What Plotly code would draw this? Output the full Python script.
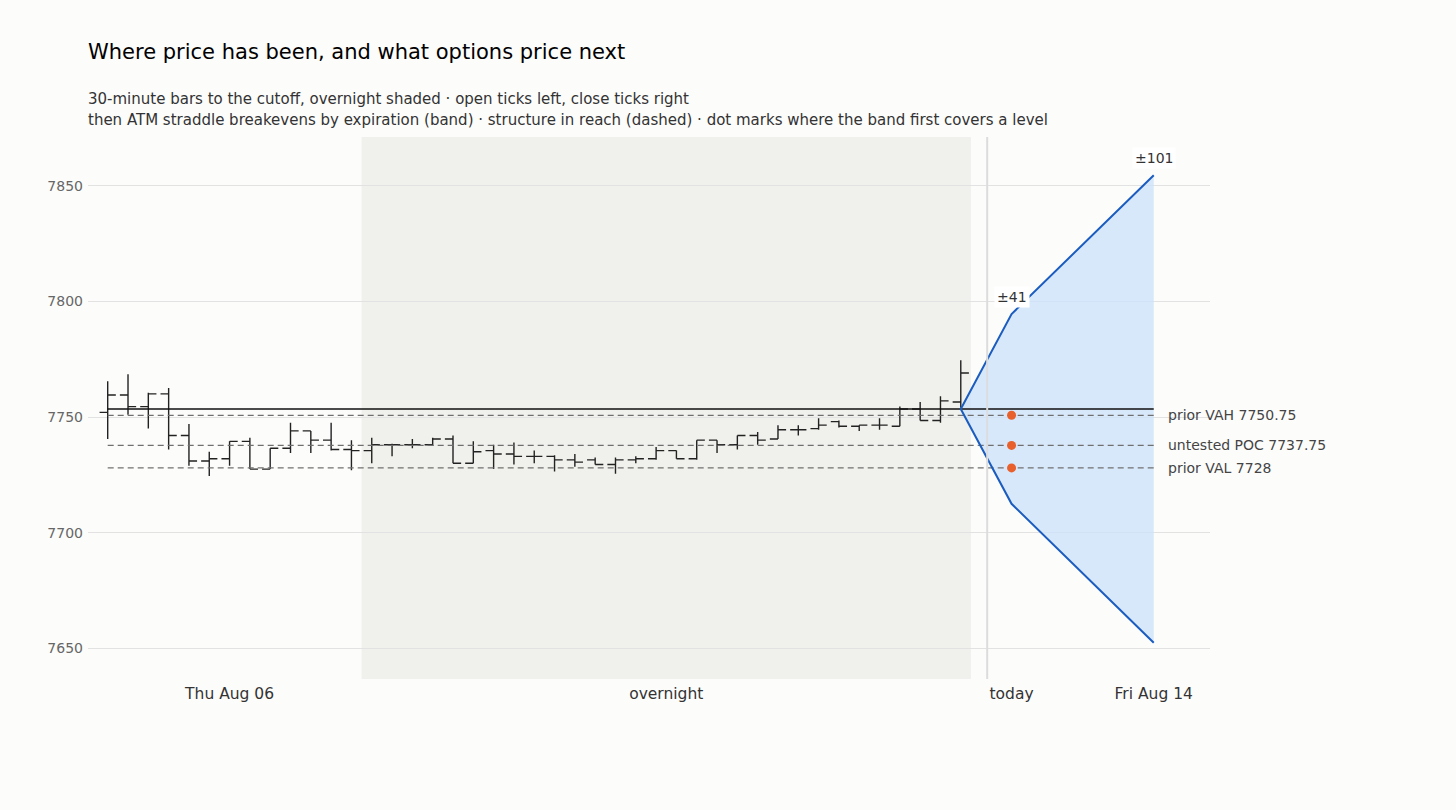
import plotly.graph_objects as go

# 30-minute bars, Thu session then overnight up to the cutoff
bar_open = [7752, 7759.5, 7754.5, 7760, 7742, 7731, 7732, 7739.5, 7727.5, 7736.5, 7744, 7740, 7736,
            7735.5, 7738, 7738, 7738, 7740.5, 7730, 7735.5, 7734, 7733, 7733, 7731.5, 7731.5, 7729.5,
            7731.5, 7732, 7735.5, 7732, 7740, 7738, 7742, 7740.5, 7744.5, 7745, 7748, 7746, 7746.5,
            7746, 7753.5, 7748.5, 7756.5]
bar_high = [7765.5, 7768.5, 7760.5, 7762.5, 7747, 7735, 7739.5, 7741, 7736.5, 7747.5, 7744, 7747.5, 7740,
            7741, 7738.5, 7740.5, 7741, 7742, 7739.5, 7738, 7739, 7735.5, 7733.5, 7734, 7732.5, 7732.5,
            7733, 7737, 7735.5, 7740, 7740, 7742, 7743.5, 7746.5, 7746.5, 7749.5, 7748.5, 7746.5, 7749.5,
            7754.5, 7756.5, 7759, 7774.5]
bar_low = [7740.5, 7751, 7745, 7736, 7729, 7724.5, 7729, 7727.5, 7727.5, 7734.5, 7734.5, 7735.5, 7727,
           7730, 7733, 7736.5, 7737.5, 7730, 7730, 7727.5, 7729.5, 7730, 7726.5, 7728.5, 7729.5, 7725.5,
           7730, 7731.5, 7732, 7731.5, 7734.5, 7736, 7738, 7740.5, 7742, 7744.5, 7745.5, 7744, 7744.5,
           7746, 7748.5, 7747.5, 7754]
bar_close = [7759.5, 7754.5, 7760, 7742, 7731, 7732, 7739.5, 7727.5, 7736.5, 7744, 7740, 7736, 7735.5,
             7738, 7738, 7738, 7740.5, 7730, 7735, 7734, 7733, 7733, 7731.5, 7730.5, 7729.5, 7731.5,
             7732, 7735.5, 7732, 7740, 7738, 7742, 7740, 7744.5, 7744.5, 7746.5, 7746, 7746.5, 7746.5,
             7753.5, 7748.5, 7757, 7769]
bar_x = list(range(len(bar_open)))

overnight_start = 12.5
overnight_end = 42.5
cutoff_x = 43.3
cutoff_price = 7753.5

# straddle breakevens by expiration
expiry_names = ["today", "Fri Aug 14"]
expiry_x = [44.5, 51.5]
expiry_move = [41, 101]

# structure levels
level_names = ["prior VAH 7750.75", "untested POC 7737.75", "prior VAL 7728"]
level_prices = [7750.75, 7737.75, 7728]
level_first_hit = [44.5, 44.5, 44.5]

tick_vals = [6, 27.5, 44.5, 51.5]
tick_text = ["Thu Aug 06", "overnight", "today", "Fri Aug 14"]

upper = [cutoff_price] + [cutoff_price + m for m in expiry_move]
lower = [cutoff_price] + [cutoff_price - m for m in expiry_move]
band_x = [bar_x[-1]] + expiry_x

fig = go.Figure()

fig.add_vrect(x0=overnight_start, x1=overnight_end, fillcolor="#f0f0ec", line_width=0, layer="below")
fig.add_vline(x=cutoff_x, line_color="#dcdcdc", line_width=2)

fig.add_trace(go.Scatter(x=band_x + band_x[::-1], y=upper + lower[::-1], fill="toself",
                         fillcolor="rgba(206,226,251,0.8)", line_width=0, mode="lines",
                         hoverinfo="skip", showlegend=False))

for name, price in zip(level_names, level_prices):
    fig.add_trace(go.Scatter(x=[0, expiry_x[-1]], y=[price, price], mode="lines",
                             line=dict(color="#707070", width=1.3, dash="6px,4px"),
                             hoverinfo="skip", showlegend=False))
    fig.add_annotation(x=expiry_x[-1], y=price, text=name, showarrow=False, xanchor="left",
                       xshift=12, font=dict(size=14, color="#444444"))

fig.add_trace(go.Scatter(x=[0, expiry_x[-1]], y=[cutoff_price, cutoff_price], mode="lines",
                         line=dict(color="#111111", width=1.5), hoverinfo="skip", showlegend=False))

fig.add_trace(go.Ohlc(x=bar_x, open=bar_open, high=bar_high, low=bar_low, close=bar_close,
                      increasing_line_color="#222222", decreasing_line_color="#222222",
                      line_width=1.4, tickwidth=0.4, showlegend=False))

fig.add_trace(go.Scatter(x=band_x, y=upper, mode="lines", line=dict(color="#1a5cbf", width=2),
                         showlegend=False))
fig.add_trace(go.Scatter(x=band_x, y=lower, mode="lines", line=dict(color="#1a5cbf", width=2),
                         showlegend=False))

fig.add_trace(go.Scatter(x=level_first_hit, y=level_prices, mode="markers",
                         marker=dict(color="#e8602c", size=9), showlegend=False))

for x, m in zip(expiry_x, expiry_move):
    fig.add_annotation(x=x, y=cutoff_price + m, text="±%d" % m, showarrow=False, yshift=17,
                       bgcolor="#ffffff", borderpad=2, font=dict(size=14, color="#333333"))

fig.add_annotation(x=0, y=1.07, xref="paper", yref="paper", xanchor="left", yanchor="middle",
                   xshift=-2, showarrow=False, font=dict(size=15, color="#333333"),
                   text="30-minute bars to the cutoff, overnight shaded · open ticks left, close ticks right")
fig.add_annotation(x=0, y=1.031, xref="paper", yref="paper", xanchor="left", yanchor="middle",
                   xshift=-2, showarrow=False, font=dict(size=15, color="#333333"),
                   text="then ATM straddle breakevens by expiration (band) · structure in reach (dashed) · dot marks where the band first covers a level")

fig.update_layout(
    width=1456, height=810,
    font=dict(family="DejaVu Sans"),
    title=dict(text="Where price has been, and what options price next", x=0, xref="paper",
               y=1 - 52 / 810, yref="container", yanchor="middle", font=dict(size=21, color="#000000")),
    paper_bgcolor="#fcfcfb", plot_bgcolor="#fcfcfb",
    margin=dict(l=88, r=246, t=137, b=131),
    showlegend=False,
    xaxis=dict(range=[-0.97, 54.27], tickvals=tick_vals, ticktext=tick_text, showgrid=False,
               zeroline=False, showline=False, ticks="", rangeslider=dict(visible=False),
               ticklabelstandoff=3, tickfont=dict(size=15.5, color="#333333")),
    yaxis=dict(range=[7636.8, 7871], tickvals=[7650, 7700, 7750, 7800, 7850], showgrid=True,
               gridcolor="#e2e2e2", gridwidth=1, zeroline=False, showline=False, ticks="",
               ticklabelstandoff=4, tickfont=dict(size=14, color="#666666")),
)

# drop the page's default body margin so the figure sits flush at the corner
fig.write_html("out.html", config={"displayModeBar": False},
               post_script="document.body.style.margin='0';"
                           "document.body.style.background='#fcfcfb';")
